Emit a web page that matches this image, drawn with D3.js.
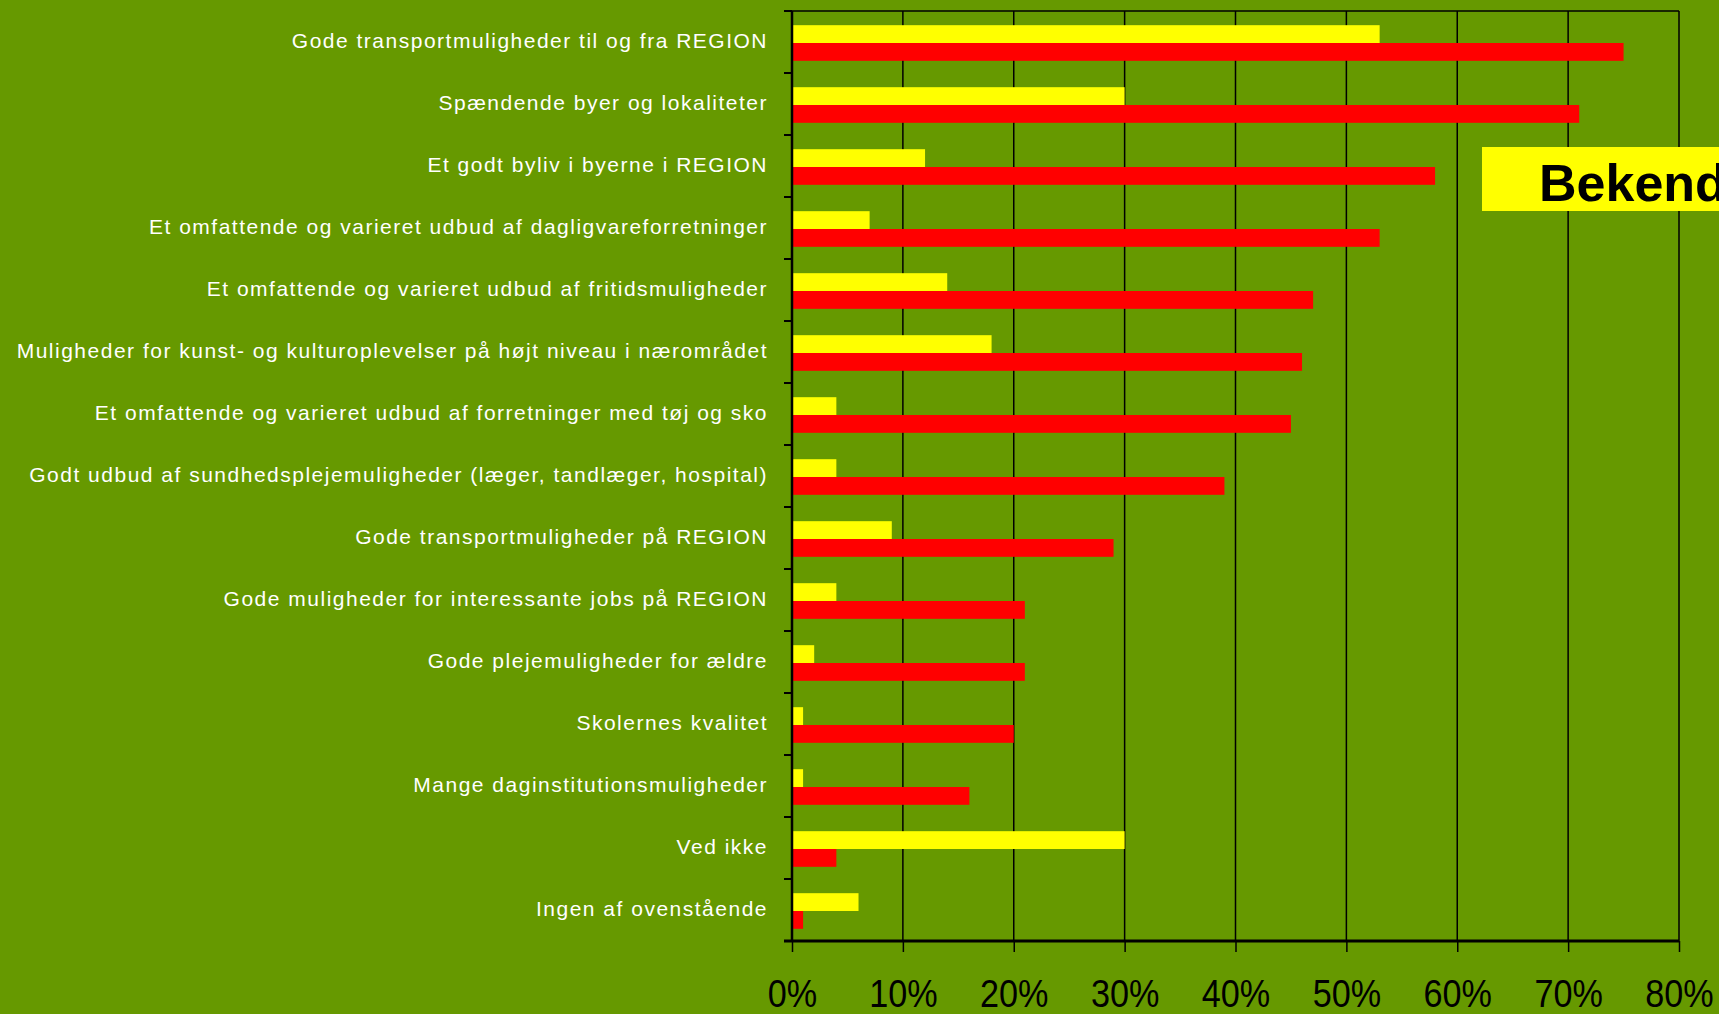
<!DOCTYPE html>
<html lang="da">
<head>
<meta charset="UTF-8">
<title>Bekendthed</title>
<style>
body {margin:0; background:#669900; overflow:hidden;}
svg {display:block;}
</style>
</head>
<body>
<div id="chart"></div>
<script src="https://d3js.org/d3.v7.min.js"></script>
<script>
// categories, top to bottom
var categories = [
  "Gode transportmuligheder til og fra REGION",
  "Spændende byer og lokaliteter",
  "Et godt byliv i byerne i REGION",
  "Et omfattende og varieret udbud af dagligvareforretninger",
  "Et omfattende og varieret udbud af fritidsmuligheder",
  "Muligheder for kunst- og kulturoplevelser på højt niveau i nærområdet",
  "Et omfattende og varieret udbud af forretninger med tøj og sko",
  "Godt udbud af sundhedsplejemuligheder (læger, tandlæger, hospital)",
  "Gode transportmuligheder på REGION",
  "Gode muligheder for interessante jobs på REGION",
  "Gode plejemuligheder for ældre",
  "Skolernes kvalitet",
  "Mange daginstitutionsmuligheder",
  "Ved ikke",
  "Ingen af ovenstående"
];
var seriesNames = ["gul", "rod"];
// values in percent
var yellowValues = [53, 30, 12, 7, 14, 18, 4, 4, 9, 4, 2, 1, 1, 30, 6];
var redValues = [75, 71, 58, 53, 47, 46, 45, 39, 29, 21, 21, 20, 16, 4, 1];
var xTicks = [0, 10, 20, 30, 40, 50, 60, 70, 80];
var legendLabel = "Bekendt";

var W = 1719, H = 1014;
var margin = {top: 11, right: 40, bottom: 73, left: 792};
var width = W - margin.left - margin.right,
    height = H - margin.top - margin.bottom;

var svg = d3.select("#chart")
  .append("svg")
    .attr("width", W)
    .attr("height", H);

svg.append("rect")
  .attr("width", W).attr("height", H)
  .attr("fill", "#669900");

var g = svg.append("g")
  .attr("transform", "translate(" + margin.left + "," + margin.top + ")");

var x = d3.scaleLinear()
  .domain([0, 80])
  .range([0, width]);

var y0 = d3.scaleBand()
  .domain(categories)
  .range([0, height])
  .padding(0);

var y1 = d3.scaleBand()
  .domain(seriesNames)
  .range([1, y0.bandwidth() + 1])
  .paddingInner(0)
  .paddingOuter(0.74);

// vertical gridlines
g.append("g")
  .selectAll("line")
  .data(xTicks.slice(1))
  .enter().append("line")
    .attr("x1", function(d) { return x(d); })
    .attr("x2", function(d) { return x(d); })
    .attr("y1", 0)
    .attr("y2", height)
    .attr("stroke", "#000")
    .attr("stroke-width", 1.5);

// top border
g.append("line")
  .attr("x1", -8).attr("x2", width)
  .attr("y1", 0).attr("y2", 0)
  .attr("stroke", "#000").attr("stroke-width", 1.5);

var rows = categories.map(function(c, i) {
  return {cat: c, values: [yellowValues[i], redValues[i]]};
});
var color = d3.scaleOrdinal().domain(seriesNames).range(["#ffff00", "#ff0000"]);

// bars
g.append("g")
  .selectAll("g")
  .data(rows)
  .enter().append("g")
    .attr("transform", function(d) { return "translate(0," + y0(d.cat) + ")"; })
    .selectAll("rect")
    .data(function(d) { return seriesNames.map(function(s, k) { return {key: s, value: d.values[k]}; }); })
    .enter().append("rect")
      .attr("x", x(0))
      .attr("y", function(d) { return y1(d.key); })
      .attr("width", function(d) { return x(d.value) - x(0); })
      .attr("height", y1.bandwidth())
      .attr("fill", function(d) { return color(d.key); });

// left axis with category labels
var yAxis = g.append("g")
  .call(d3.axisLeft(y0).tickSize(0).tickPadding(24));
yAxis.select(".domain").remove();
yAxis.selectAll("text")
  .attr("fill", "#fff")
  .attr("dy", "0.3em")
  .style("font-family", "'Liberation Sans', Arial, sans-serif")
  .style("font-size", "21px")
  .style("letter-spacing", "1.5px");

// ticks between the categories
g.append("g")
  .selectAll("line")
  .data(d3.range(categories.length + 1))
  .enter().append("line")
    .attr("x1", -8).attr("x2", 0)
    .attr("y1", function(i) { return i * y0.step(); })
    .attr("y2", function(i) { return i * y0.step(); })
    .attr("stroke", "#000").attr("stroke-width", 2);

g.append("line")
  .attr("x1", 0).attr("x2", 0)
  .attr("y1", 0).attr("y2", height)
  .attr("stroke", "#000").attr("stroke-width", 2.5);

// bottom axis
var xAxis = g.append("g")
  .attr("transform", "translate(0," + height + ")")
  .call(d3.axisBottom(x).tickValues(xTicks).tickSize(11).tickPadding(28)
    .tickFormat(function(d) { return d + "%"; }));
xAxis.select(".domain")
  .attr("d", "M-8,0H" + width)
  .attr("stroke", "#000").attr("stroke-width", 3);
xAxis.selectAll(".tick line").attr("stroke", "#000").attr("stroke-width", 1.5);
xAxis.selectAll("text")
  .attr("fill", "#000")
  .attr("transform", "scale(0.9,1)")
  .style("font-family", "'Liberation Sans', Arial, sans-serif")
  .style("font-size", "38px");

// yellow label box, runs off the right edge
var box = svg.append("g").attr("transform", "translate(1482,147)");
box.append("rect")
  .attr("width", 260).attr("height", 64)
  .attr("fill", "#ffff00");
box.append("text")
  .attr("x", 57).attr("y", 54)
  .attr("fill", "#000")
  .style("font-family", "'Liberation Sans', Arial, sans-serif")
  .style("font-weight", "bold")
  .style("font-size", "52px")
  .text(legendLabel);
</script>
</body>
</html>
